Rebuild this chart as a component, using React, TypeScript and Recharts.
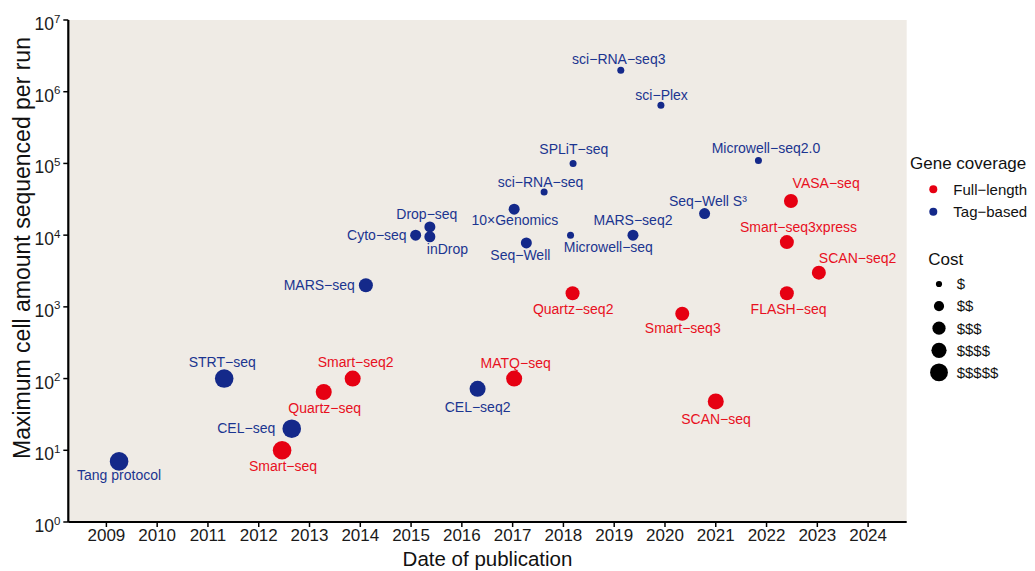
import { ScatterChart, Scatter, XAxis, YAxis, CartesianGrid, Legend } from "recharts";

// one entry per method, same order in every array
const methods = [
  "Tang protocol", "STRT-seq", "Smart-seq", "CEL-seq", "Quartz-seq", "Smart-seq2",
  "MARS-seq", "Cyto-seq", "Drop-seq", "inDrop", "CEL-seq2", "10×Genomics",
  "MATQ-seq", "Seq-Well", "sci-RNA-seq", "Microwell-seq", "Quartz-seq2", "SPLiT-seq",
  "sci-RNA-seq3", "MARS-seq2", "sci-Plex", "Smart-seq3", "Seq-Well S³", "SCAN-seq",
  "Microwell-seq2.0", "Smart-seq3xpress", "FLASH-seq", "VASA-seq", "SCAN-seq2",
];
const pubDates = [
  2009.25, 2011.32, 2012.46, 2012.65, 2013.28, 2013.85,
  2014.11, 2015.09, 2015.37, 2015.37, 2016.31, 2017.03,
  2017.03, 2017.27, 2017.62, 2018.14, 2018.18, 2018.19,
  2019.13, 2019.37, 2019.92, 2020.34, 2020.78, 2021.0,
  2021.84, 2022.4, 2022.4, 2022.48, 2023.03,
];
const maxCells = [
  7, 100, 10, 20, 65, 100,
  2000, 10000, 13000, 9500, 72, 23000,
  100, 7800, 40000, 10000, 1550, 100000,
  2000000, 10000, 650000, 800, 20000, 48,
  110000, 8000, 1550, 30000, 3000,
];
const coverage = [
  "Tag-based", "Tag-based", "Full-length", "Tag-based", "Full-length", "Full-length",
  "Tag-based", "Tag-based", "Tag-based", "Tag-based", "Tag-based", "Tag-based",
  "Full-length", "Tag-based", "Tag-based", "Tag-based", "Full-length", "Tag-based",
  "Tag-based", "Tag-based", "Tag-based", "Full-length", "Tag-based", "Full-length",
  "Tag-based", "Full-length", "Full-length", "Full-length", "Full-length",
];
// 1 = $ ... 5 = $$$$$
const cost = [
  5, 5, 5, 5, 4, 4,
  3, 2, 2, 2, 4, 2,
  4, 2, 1, 1, 3, 1,
  1, 2, 1, 3, 2, 4,
  1, 3, 3, 3, 3,
];

const yearTicks = [2009, 2010, 2011, 2012, 2013, 2014, 2015, 2016, 2017, 2018, 2019, 2020, 2021, 2022, 2023, 2024];
const cellTicks = [1, 10, 100, 1000, 10000, 100000, 1000000, 10000000];
const costLevels = ["$", "$$", "$$$", "$$$$", "$$$$$"];
const coverageLevels = ["Full-length", "Tag-based"];

const DOT = { "Full-length": "#E60012", "Tag-based": "#14298A" };
const TEXT = { "Full-length": "#E8101E", "Tag-based": "#1B3590" };
const RADIUS = [3.5, 5.5, 7, 8, 9.3];
const FONT = "'Liberation Sans', Arial, Helvetica, sans-serif";

// label offset from the dot centre: [dx, dy, anchor]
const LABEL_POS: Record<string, [number, number, string]> = {
  "Tang protocol": [0, 14, "middle"],
  "STRT-seq": [-2, -17, "middle"],
  "Smart-seq": [1, 16, "middle"],
  "CEL-seq": [-16.5, -1, "end"],
  "Quartz-seq": [1, 16, "middle"],
  "Smart-seq2": [3, -17, "middle"],
  "MARS-seq": [-11, 0, "end"],
  "Cyto-seq": [-9, 0, "end"],
  "Drop-seq": [-3, -13, "middle"],
  "inDrop": [-3, 12.6, "start"],
  "CEL-seq2": [0, 17.7, "middle"],
  "10×Genomics": [0.7, 11, "middle"],
  "MATQ-seq": [1.5, -15.6, "middle"],
  "Seq-Well": [-6, 12.3, "middle"],
  "sci-RNA-seq": [-3.6, -10, "middle"],
  "Microwell-seq": [-6.7, 11.7, "start"],
  "Quartz-seq2": [0.6, 16, "middle"],
  "SPLiT-seq": [0.7, -14, "middle"],
  "sci-RNA-seq3": [-2, -11, "middle"],
  "MARS-seq2": [0, -15, "middle"],
  "sci-Plex": [0.7, -10, "middle"],
  "Smart-seq3": [0.5, 14.4, "middle"],
  "Seq-Well S³": [3.3, -12.6, "middle"],
  "SCAN-seq": [0.3, 17.6, "middle"],
  "Microwell-seq2.0": [7.5, -12, "middle"],
  "Smart-seq3xpress": [11.7, -15, "middle"],
  "FLASH-seq": [1.7, 15.4, "middle"],
  "VASA-seq": [1.7, -18, "start"],
  "SCAN-seq2": [0, -14.4, "start"],
};

const rows = methods.map((name, i) => ({
  name,
  date: pubDates[i],
  cells: maxCells[i],
  coverage: coverage[i],
  cost: cost[i],
}));

const minus = (s: string) => s.replace(/-/g, "\u2212");

function MethodDot(props: any) {
  const { cx, cy, payload } = props;
  if (cx == null || cy == null) return null;
  const [dx, dy, anchor] = LABEL_POS[payload.name] ?? [0, -14, "middle"];
  return (
    <g>
      <circle cx={cx} cy={cy} r={RADIUS[payload.cost - 1]} fill={DOT[payload.coverage]} />
      <text
        x={cx + dx}
        y={cy + dy + 5}
        textAnchor={anchor}
        fontSize={14}
        fontFamily={FONT}
        fill={TEXT[payload.coverage]}
      >
        {minus(payload.name)}
      </text>
    </g>
  );
}

function YearTick({ x, y, payload }: any) {
  return (
    <text x={x} y={y + 12} textAnchor="middle" fontSize={17} fontFamily={FONT} fill="#1a1a1a">
      {payload.value}
    </text>
  );
}

function PowerTick({ x, y, payload }: any) {
  const exp = Math.round(Math.log10(payload.value));
  return (
    <text x={x - 1} y={y + 10} textAnchor="end" fontSize={17.5} fontFamily={FONT} fill="#1a1a1a">
      <tspan>10</tspan>
      <tspan dy={-7.5} fontSize={11.5}>{exp}</tspan>
    </text>
  );
}

function KeyBox() {
  return (
    <svg width={135} height={245} style={{ display: "block" }}>
      <g fontFamily={FONT} fill="#111">
        <text x={10} y={29} fontSize={17}>Gene coverage</text>
        {coverageLevels.map((c, i) => (
          <g key={c}>
            <circle cx={33.3} cy={49.3 + i * 22.4} r={4} fill={DOT[c]} />
            <text x={53.3} y={54.5 + i * 22.4} fontSize={15}>{minus(c)}</text>
          </g>
        ))}
        <text x={28.3} y={124.5} fontSize={17}>Cost</text>
        {costLevels.map((c, i) => (
          <g key={c}>
            <circle cx={39} cy={144 + i * 22.1} r={RADIUS[i] - 0.4} fill="#000" />
            <text x={56.7} y={149.3 + i * 22.1} fontSize={15}>{c}</text>
          </g>
        ))}
      </g>
    </svg>
  );
}

export default function App() {
  return (
    <div style={{ position: "absolute", left: 0, top: 0, width: 1035, height: 571, background: "#fff" }}>
      <ScatterChart width={1035} height={571} margin={{ top: 20, right: 128.3, bottom: 0, left: 0 }}>
        <CartesianGrid fill="#EFEBE5" stroke="none" horizontal={false} vertical={false} />
        <XAxis
          type="number"
          dataKey="date"
          domain={[2008.25, 2024.76]}
          ticks={yearTicks}
          allowDataOverflow
          height={49}
          tick={<YearTick />}
          tickSize={5}
          tickLine={{ stroke: "#000", strokeWidth: 1.5 }}
          axisLine={{ stroke: "#000", strokeWidth: 2.2 }}
          label={() => (
            <text x={487.5} y={566} textAnchor="middle" fontSize={20.5} fontFamily={FONT} fill="#111">
              Date of publication
            </text>
          )}
        />
        <YAxis
          type="number"
          dataKey="cells"
          scale="log"
          domain={[1, 10000000]}
          ticks={cellTicks}
          allowDataOverflow
          width={68.3}
          tick={<PowerTick />}
          tickSize={5}
          tickLine={{ stroke: "#000", strokeWidth: 1.5 }}
          axisLine={{ stroke: "#000", strokeWidth: 2.2 }}
          label={() => (
            <text
              x={0}
              y={0}
              transform="translate(29.5,248) rotate(-90)"
              textAnchor="middle"
              fontSize={23}
              fontFamily={FONT}
              fill="#111"
            >
              Maximum cell amount sequenced per run
            </text>
          )}
        />
        <Legend
          layout="horizontal"
          verticalAlign="middle"
          align="center"
          wrapperStyle={{ left: 900, top: 140, width: 135, height: 245 }}
          content={() => <KeyBox />}
        />
        <Scatter data={rows} shape={<MethodDot />} isAnimationActive={false} />
      </ScatterChart>
    </div>
  );
}
